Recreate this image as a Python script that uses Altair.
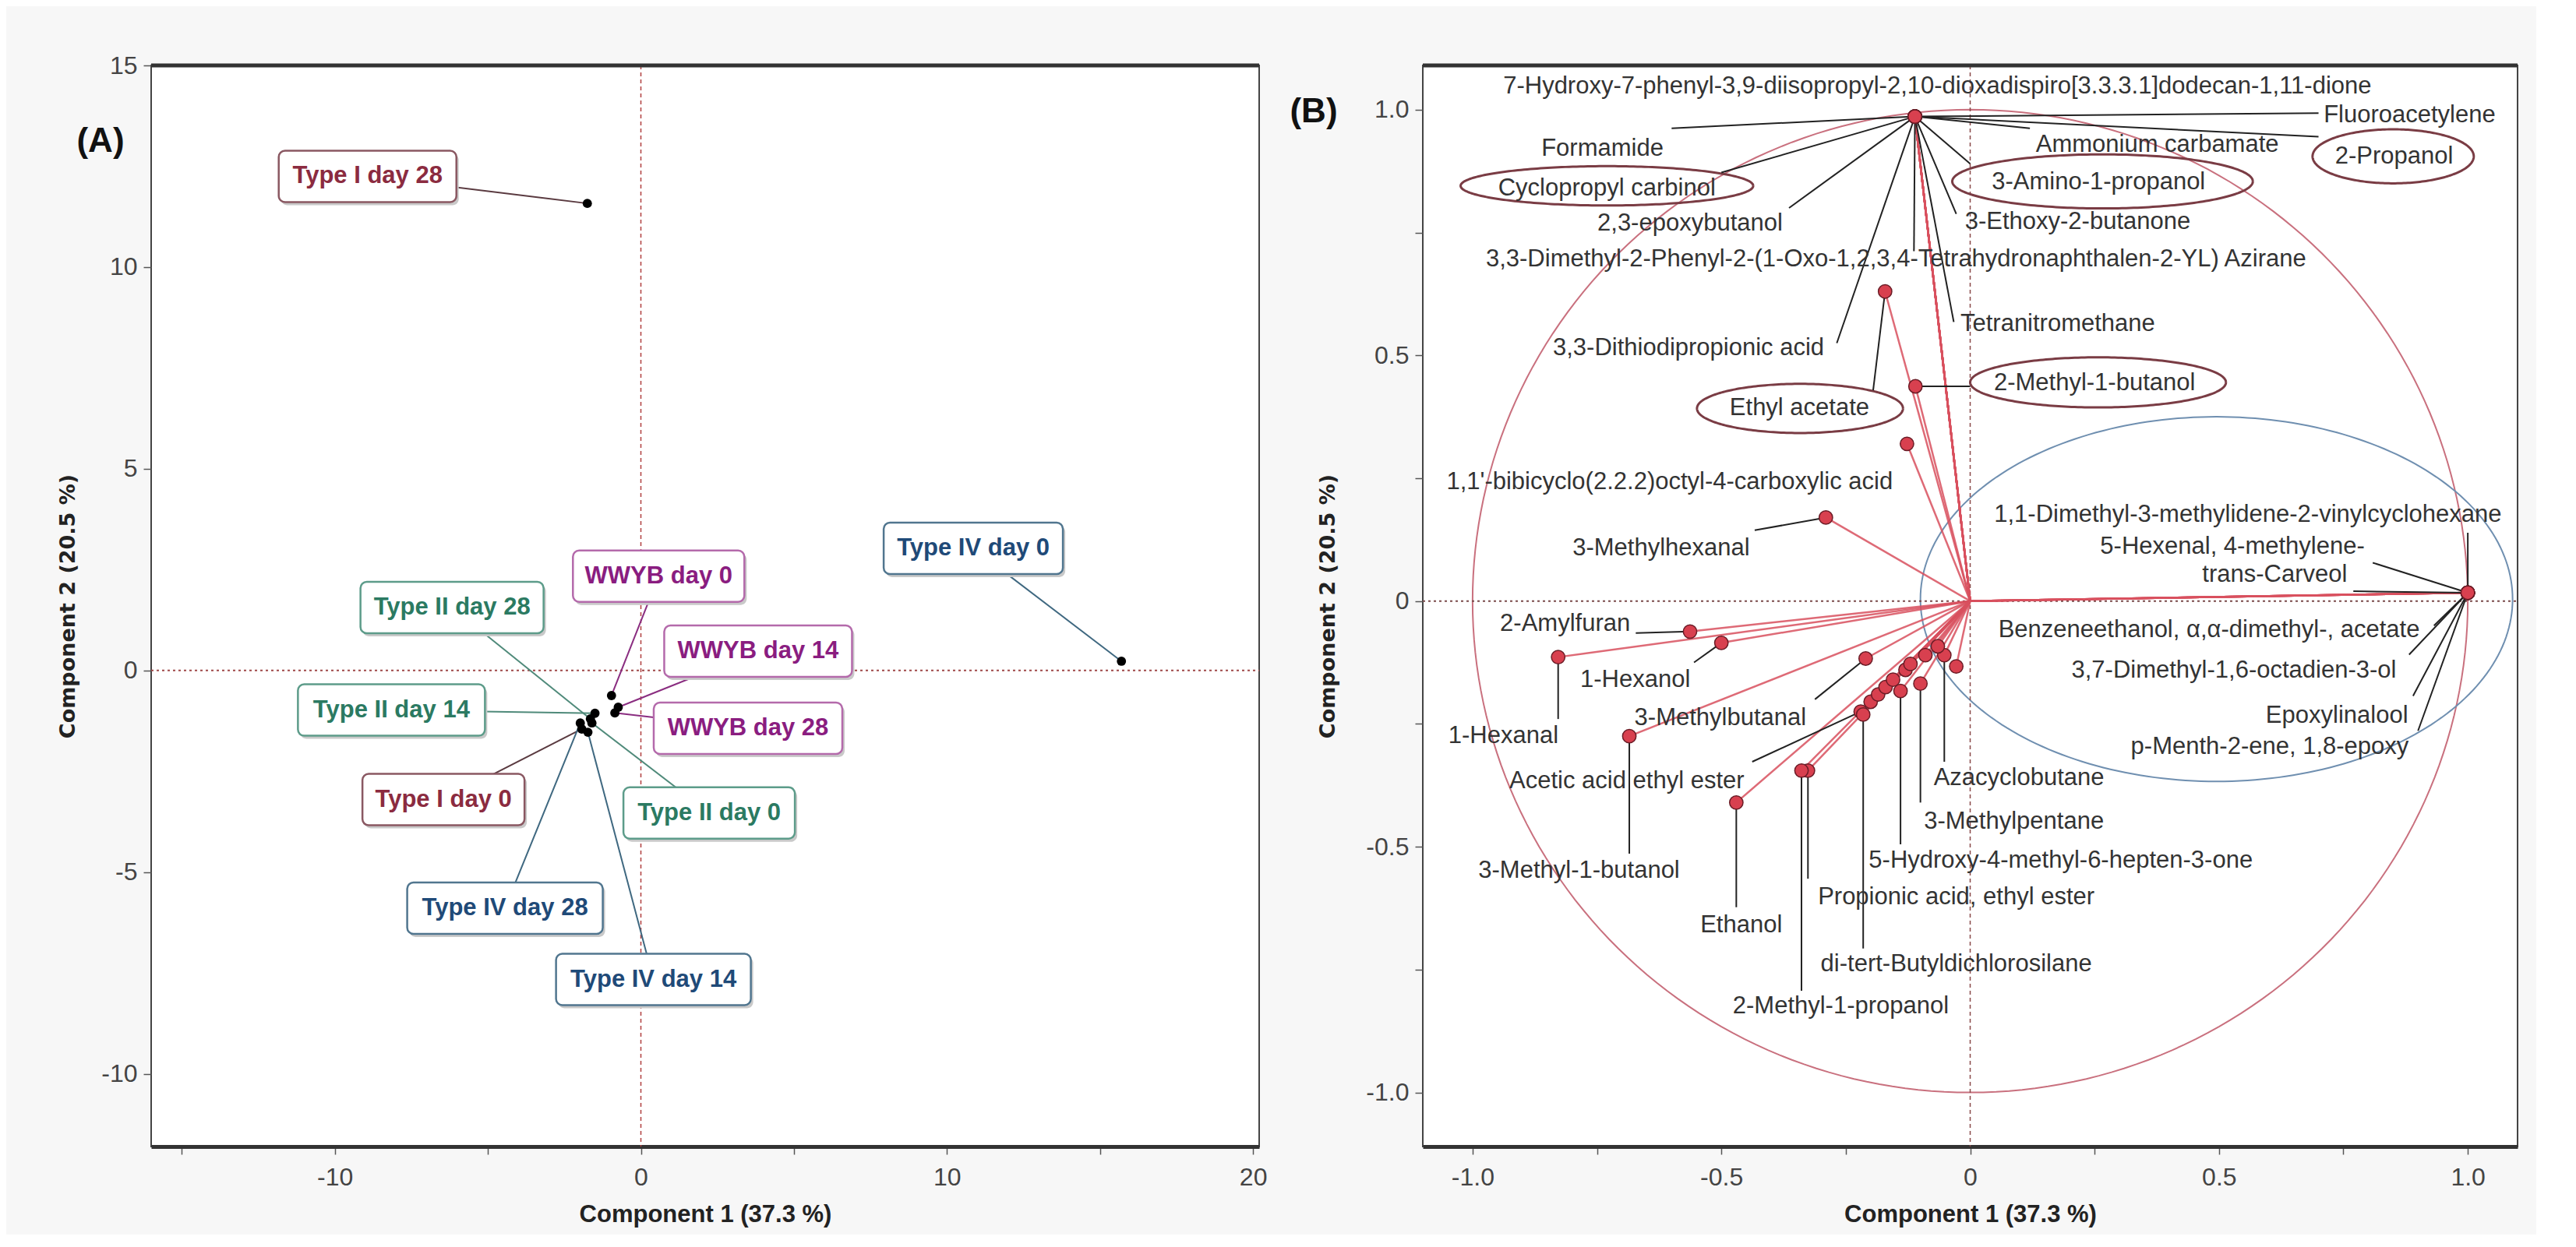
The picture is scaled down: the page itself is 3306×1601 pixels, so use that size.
import altair as alt
import pandas as pd
import numpy as np

# ---------------- Panel A : scores ----------------
samples = ["Type I day 28", "Type IV day 0", "WWYB day 0", "WWYB day 14", "WWYB day 28",
           "Type II day 28", "Type II day 14", "Type II day 0", "Type I day 0",
           "Type IV day 28", "Type IV day 14"]
groups = ["Type I", "Type IV", "WWYB", "WWYB", "WWYB",
          "Type II", "Type II", "Type II", "Type I", "Type IV", "Type IV"]
pc1 = [-1.75, 15.7, -0.96, -0.74, -0.85, -1.65, -1.5, -1.6, -1.93, -1.98, -1.73]
pc2 = [11.58, 0.23, -0.62, -0.91, -1.05, -1.2, -1.06, -1.3, -1.45, -1.3, -1.53]
# label box centres (data units)
lab1 = [-8.93, 10.86, 0.58, 3.83, 3.5, -6.17, -8.15, 2.23, -6.45, -4.44, 0.41]
lab2 = [12.25, 3.03, 2.34, 0.48, -1.43, 1.56, -0.98, -3.53, -3.2, -5.89, -7.66]

# ---------------- Panel B : loadings ----------------
var_names = [
    "7-Hydroxy-7-phenyl-3,9-diisopropyl-2,10-dioxadispiro[3.3.3.1]dodecan-1,11-dione",
    "Fluoroacetylene", "Formamide", "Ammonium carbamate", "2-Propanol",
    "Cyclopropyl carbinol", "3-Amino-1-propanol", "2,3-epoxybutanol",
    "3-Ethoxy-2-butanone",
    "3,3-Dimethyl-2-Phenyl-2-(1-Oxo-1,2,3,4-Tetrahydronaphthalen-2-YL) Azirane",
    "Tetranitromethane", "3,3-Dithiodipropionic acid", "Ethyl acetate",
    "2-Methyl-1-butanol", "1,1'-bibicyclo(2.2.2)octyl-4-carboxylic acid",
    "3-Methylhexanal", "1,1-Dimethyl-3-methylidene-2-vinylcyclohexane",
    "5-Hexenal, 4-methylene-", "trans-Carveol",
    "Benzeneethanol, \u03b1,\u03b1-dimethyl-, acetate",
    "3,7-Dimethyl-1,6-octadien-3-ol", "Epoxylinalool", "p-Menth-2-ene, 1,8-epoxy",
    "2-Amylfuran", "1-Hexanol", "1-Hexanal", "3-Methylbutanal",
    "Acetic acid ethyl ester", "3-Methyl-1-butanol", "Ethanol",
    "Propionic acid, ethyl ester", "2-Methyl-1-propanol",
    "di-tert-Butyldichlorosilane", "5-Hydroxy-4-methyl-6-hepten-3-one",
    "3-Methylpentane", "Azacyclobutane"]
load1 = [-0.111] * 12 + [-0.171, -0.11, -0.127, -0.29] + [1.0] * 7 + [
    -0.563, -0.50, -0.828, -0.21, -0.22, -0.685, -0.47, -0.326, -0.339,
    -0.215, -0.14, -0.10, -0.052]
load2 = [0.986] * 12 + [0.63, 0.437, 0.32, 0.17] + [0.017] * 7 + [
    -0.062, -0.085, -0.114, -0.117, -0.225, -0.275, -0.41, -0.345, -0.345,
    -0.231, -0.183, -0.168, -0.11]
# label text centres (data units)
txt1 = [-0.066, 0.883, -0.739, 0.376, 0.852, -0.73, 0.258, -0.563, 0.216, -0.149,
        0.176, -0.566, -0.343, 0.25, -0.604, -0.621, 0.558, 0.527, 0.612, 0.48,
        0.53, 0.737, 0.602, -0.814, -0.673, -0.938, -0.502, -0.69, -0.786, -0.46,
        -0.028, -0.26, -0.028, 0.182, 0.088, 0.098]
txt2 = [1.047, 0.989, 0.921, 0.929, 0.904, 0.84, 0.852, 0.769, 0.771, 0.695,
        0.564, 0.514, 0.392, 0.443, 0.242, 0.108, 0.176, 0.111, 0.054, -0.059,
        -0.142, -0.234, -0.297, -0.046, -0.16, -0.275, -0.239, -0.367, -0.549, -0.66,
        -0.603, -0.824, -0.739, -0.528, -0.449, -0.361]
# leader-line ends near the labels (NaN = no leader)
lead1 = [np.nan, 0.70, -0.60, 0.12, 0.70, -0.50, 0.0, -0.364, -0.028, -0.113,
         -0.033, -0.268, -0.195, 0.0, np.nan, -0.433, 1.0, 0.809, 0.77, 0.932,
         0.882, 0.89, 0.90, -0.672, -0.555, -0.828, -0.312, -0.438, -0.685, -0.47,
         -0.326, -0.339, -0.215, -0.14, -0.10, -0.052]
lead2 = [np.nan, 0.993, 0.962, 0.962, 0.945, 0.872, 0.89, 0.80, 0.788, 0.712,
         0.568, 0.525, 0.429, 0.437, np.nan, 0.144, 0.139, 0.078, 0.02, -0.05,
         -0.109, -0.193, -0.264, -0.065, -0.125, -0.24, -0.2, -0.327, -0.514, -0.623,
         -0.565, -0.793, -0.707, -0.495, -0.41, -0.327]
# unlabelled loadings in the dense cluster
extra1 = [-0.028, -0.2, -0.185, -0.17, -0.155, -0.13, -0.12, -0.09, -0.065]
extra2 = [-0.133, -0.205, -0.19, -0.175, -0.16, -0.14, -0.128, -0.11, -0.092]
# circled variables: (name, centre x, centre y, radius x, radius y)
circled = [("Cyclopropyl carbinol", -0.73, 0.845, 0.294, 0.04),
           ("3-Amino-1-propanol", 0.266, 0.854, 0.302, 0.055),
           ("2-Propanol", 0.85, 0.905, 0.162, 0.055),
           ("Ethyl acetate", -0.342, 0.392, 0.207, 0.05),
           ("2-Methyl-1-butanol", 0.257, 0.445, 0.257, 0.051)]
blue_group = (0.495, 0.004, 0.595, 0.371)

# ---------------- layout / style ----------------
WA, HA = 1422, 1388
WB, HB = 1405, 1388
AX, AY = [-16, 20.2], [-11.8, 15]
BX, BY = [-1.1, 1.1], [-1.11, 1.09]
FONT = "Liberation Sans"
TITLE_FONT = "DejaVu Sans"

text_col = {"Type I": "#8b2b40", "Type II": "#2b7a62", "Type IV": "#1f4a78", "WWYB": "#8a1d80"}
box_col = {"Type I": "#8a5862", "Type II": "#5d9c8a", "Type IV": "#51768f", "WWYB": "#b46aab"}
line_col = {"Type I": "#5a3a40", "Type II": "#4f8a7a", "Type IV": "#3f6880", "WWYB": "#8a2d80"}
box_w = {"Type I day 28": 228, "Type IV day 0": 230, "WWYB day 0": 220, "WWYB day 14": 241,
         "WWYB day 28": 242, "Type II day 28": 235, "Type II day 14": 240,
         "Type II day 0": 220, "Type I day 0": 208, "Type IV day 28": 251,
         "Type IV day 14": 250}
BOX_H = 66

dfA = pd.DataFrame({"sample": samples, "group": groups, "pc1": pc1, "pc2": pc2,
                    "lx": lab1, "ly": lab2})
ppx = WA / (AX[1] - AX[0])
ppy = HA / (AY[1] - AY[0])
dfA["bx1"] = dfA["lx"] - dfA["sample"].map(box_w) / 2 / ppx
dfA["bx2"] = dfA["lx"] + dfA["sample"].map(box_w) / 2 / ppx
dfA["by1"] = dfA["ly"] - BOX_H / 2 / ppy
dfA["by2"] = dfA["ly"] + BOX_H / 2 / ppy
dfA["tcol"] = dfA["group"].map(text_col)
dfA["bcol"] = dfA["group"].map(box_col)
dfA["lcol"] = dfA["group"].map(line_col)


def ax_x(values, expr, domain):
    return alt.Axis(values=values, labelExpr=expr, title="Component 1  (37.3 %)", grid=False,
                    tickSize=10, tickColor="#555", tickWidth=1.5, labelFont=FONT,
                    labelFontSize=32, labelColor="#444", labelPadding=14,
                    titleFont=FONT, titleFontSize=31, titleFontWeight="bold",
                    titleColor="#222", titleY=87, titleBaseline="middle",
                    domainColor="#333", domainWidth=5)


def ax_y(values, expr, tx):
    return alt.Axis(values=values, labelExpr=expr, title="Component 2  (20.5 %)", grid=False,
                    tickSize=10, tickColor="#555", tickWidth=1.5, labelFont=FONT,
                    labelFontSize=32, labelColor="#444", labelPadding=8,
                    titleFont=TITLE_FONT, titleFontSize=27, titleFontWeight="bold",
                    titleColor="#222", titleX=tx, titleBaseline="middle",
                    titleAngle=270, domain=False)


exA_x = "datum.value % 10 == 0 ? ((datum.value < 0 ? '-' : '') + format(abs(datum.value), 'd')) : ''"
exA_y = "(datum.value < 0 ? '-' : '') + format(abs(datum.value), 'd')"
exB = ("abs((datum.value * 4) % 2) > 0.01 ? '' : (datum.value == 0 ? '0' : "
       "(datum.value < 0 ? '-' : '') + format(abs(datum.value), '.1f'))")

axAx = ax_x([-15, -10, -5, 0, 5, 10, 15, 20], exA_x, AX)
axAy = ax_y([-10, -5, 0, 5, 10, 15], exA_y, -107)
bvals = [-1, -0.75, -0.5, -0.25, 0, 0.25, 0.5, 0.75, 1]
axBx = ax_x(bvals, exB, BX)
axBy = ax_y(bvals, exB, -122)


def XA(f):
    return alt.X(f, type="quantitative", scale=alt.Scale(domain=AX, nice=False, zero=False), axis=axAx)


def YA(f):
    return alt.Y(f, type="quantitative", scale=alt.Scale(domain=AY, nice=False, zero=False), axis=axAy)


def XB(f):
    return alt.X(f, type="quantitative", scale=alt.Scale(domain=BX, nice=False, zero=False), axis=axBx)


def YB(f):
    return alt.Y(f, type="quantitative", scale=alt.Scale(domain=BY, nice=False, zero=False), axis=axBy)


zero = pd.DataFrame({"v": [0.0]})
one = pd.DataFrame({"t": ["(A)"]})

a_vline = alt.Chart(zero).mark_rule(color="#b04040", strokeDash=[5, 4], strokeWidth=1.5).encode(
    x=XA("v"), y=alt.value(0), y2=alt.value(HA))
a_hline = alt.Chart(zero).mark_rule(color="#a04848", strokeDash=[3, 4], strokeWidth=2).encode(
    y=YA("v"), x=alt.value(0), x2=alt.value(WA))
a_lead = alt.Chart(dfA).mark_rule(strokeWidth=2).encode(
    x=XA("pc1"), y=YA("pc2"), x2="lx", y2="ly", color=alt.Color("lcol:N", scale=None))
a_shadow = alt.Chart(dfA).mark_rect(cornerRadius=8, color="#c9c9c9", xOffset=3, yOffset=4,
                                    x2Offset=3, y2Offset=4).encode(
    x=XA("bx1"), x2="bx2", y=YA("by1"), y2="by2")
a_box = alt.Chart(dfA).mark_rect(cornerRadius=8, fill="white", strokeWidth=2.5).encode(
    x=XA("bx1"), x2="bx2", y=YA("by1"), y2="by2", stroke=alt.Stroke("bcol:N", scale=None))
a_text = alt.Chart(dfA).mark_text(font=FONT, fontSize=31, fontWeight="bold", baseline="middle").encode(
    x=XA("lx"), y=YA("ly"), text="sample:N", color=alt.Color("tcol:N", scale=None))
a_pts = alt.Chart(dfA).mark_circle(size=140, color="black", opacity=1).encode(
    x=XA("pc1"), y=YA("pc2"))
a_tag = alt.Chart(one).mark_text(font=FONT, fontSize=44, fontWeight="bold", color="#111").encode(
    text="t:N", x=alt.value(-65), y=alt.value(98))
a_top = alt.Chart(one).mark_rule(color="#333", strokeWidth=5).encode(
    x=alt.value(0), x2=alt.value(WA), y=alt.value(0))

panelA = alt.layer(a_vline, a_hline, a_lead, a_shadow, a_box, a_text, a_pts, a_tag, a_top).properties(
    width=WA, height=HA)

# ---- panel B
dfV = pd.DataFrame({"name": var_names, "x": load1, "y": load2, "tx": txt1, "ty": txt2,
                    "lx": lead1, "ly": lead2})
dfV["x0"] = 0.0
dfV["y0"] = 0.0
dfE = pd.DataFrame({"x": extra1, "y": extra2})
dfE["x0"] = 0.0
dfE["y0"] = 0.0
dfAll = pd.concat([dfV[["x", "y", "x0", "y0"]], dfE], ignore_index=True)
dfLead = dfV.dropna(subset=["lx"])

t = np.linspace(0, 2 * np.pi, 241)
rows = []
for name, cx, cy, rx, ry in circled:
    for i, tt in enumerate(t):
        rows.append({"eid": name, "i": i, "ex": cx + rx * np.cos(tt), "ey": cy + ry * np.sin(tt)})
dfCirc = pd.DataFrame(rows)
dfUnit = pd.DataFrame({"i": range(len(t)), "ex": np.cos(t), "ey": np.sin(t)})
bcx, bcy, brx, bry = blue_group
dfBlue = pd.DataFrame({"i": range(len(t)), "ex": bcx + brx * np.cos(t), "ey": bcy + bry * np.sin(t)})

b_unit = alt.Chart(dfUnit).mark_line(color="#c9707e", strokeWidth=2).encode(
    x=XB("ex"), y=YB("ey"), order="i:Q")
b_blue = alt.Chart(dfBlue).mark_line(color="#6f8fb0", strokeWidth=2).encode(
    x=XB("ex"), y=YB("ey"), order="i:Q")
b_vline = alt.Chart(zero).mark_rule(color="#8a4a4a", strokeDash=[5, 4], strokeWidth=1.5).encode(
    x=XB("v"), y=alt.value(0), y2=alt.value(HB))
b_hline = alt.Chart(zero).mark_rule(color="#7a4a4a", strokeDash=[3, 4], strokeWidth=2).encode(
    y=YB("v"), x=alt.value(0), x2=alt.value(WB))
b_vec = alt.Chart(dfAll).mark_rule(color="#d8505e", strokeWidth=2.5, opacity=0.85).encode(
    x=XB("x0"), y=YB("y0"), x2="x", y2="y")
b_circ = alt.Chart(dfCirc).mark_line(color="#7a3c44", strokeWidth=3).encode(
    x=XB("ex"), y=YB("ey"), order="i:Q", detail="eid:N")
b_lead = alt.Chart(dfLead).mark_rule(color="#222", strokeWidth=2).encode(
    x=XB("x"), y=YB("y"), x2="lx", y2="ly")
b_pts = alt.Chart(dfAll).mark_point(filled=True, size=300, fill="#d8404f", stroke="#6a1c26",
                                    strokeWidth=1.5, opacity=1).encode(
    x=XB("x"), y=YB("y"))
b_text = alt.Chart(dfV).mark_text(font=FONT, fontSize=31, color="#333", baseline="middle").encode(
    x=XB("tx"), y=YB("ty"), text="name:N")
b_tag = alt.Chart(pd.DataFrame({"t": ["(B)"]})).mark_text(
    font=FONT, fontSize=44, fontWeight="bold", color="#111").encode(
    text="t:N", x=alt.value(-140), y=alt.value(60))
b_top = alt.Chart(one).mark_rule(color="#333", strokeWidth=5).encode(
    x=alt.value(0), x2=alt.value(WB), y=alt.value(0))

panelB = alt.layer(b_unit, b_blue, b_vline, b_hline, b_vec, b_circ, b_lead, b_pts, b_text,
                   b_tag, b_top).properties(width=WB, height=HB)

chart = alt.hconcat(panelA, panelB, spacing=210, bounds="flush").configure(
    background="#f7f7f7",
    padding={"left": 64, "top": 59, "right": 20, "bottom": 10},
).configure_view(stroke="#444", strokeWidth=2, fill="white")

chart.save("out.html", embed_options={"renderer": "svg", "actions": False})
